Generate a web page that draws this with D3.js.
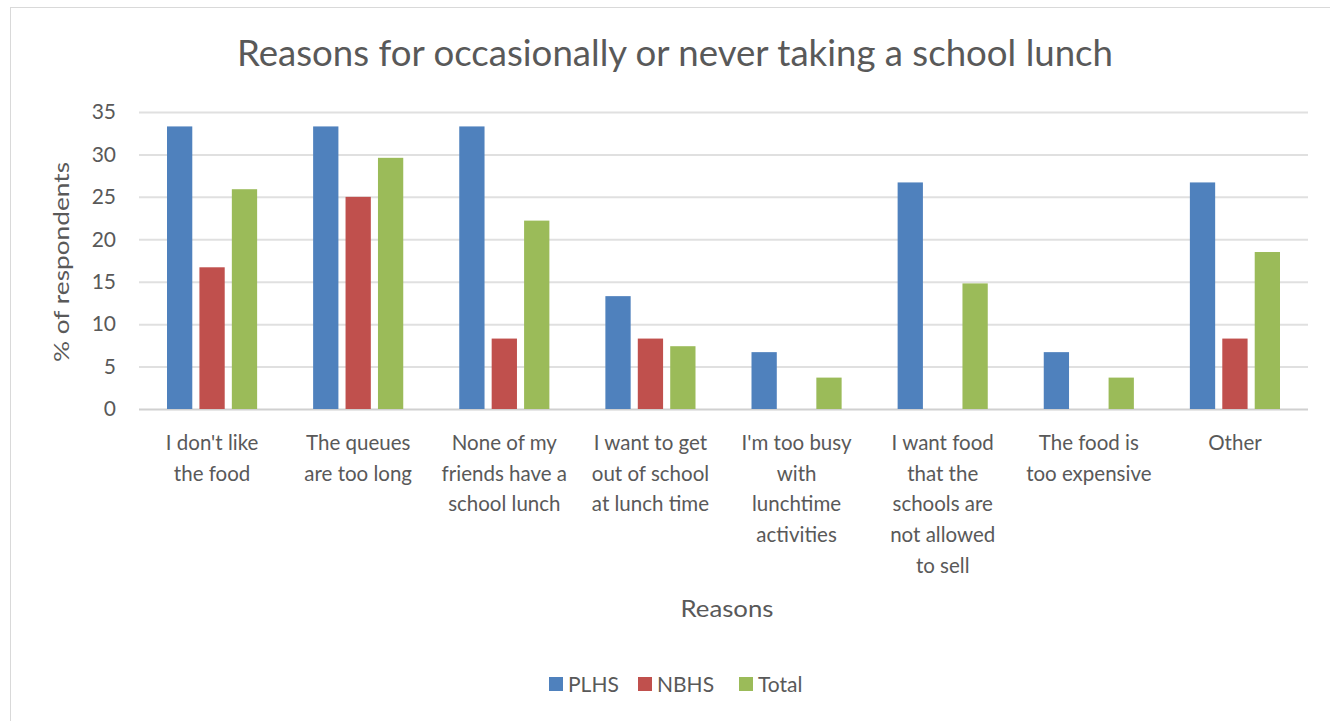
<!DOCTYPE html>
<html>
<head>
<meta charset="utf-8">
<script src="https://cdn.jsdelivr.net/npm/d3@7"></script>
<style>
  body { margin: 0; background: #fff; }
  svg text { font-family: Lato, "Open Sans", sans-serif; fill: #595959; }
</style>
</head>
<body>
<div id="chart"></div>
<script>
// Chart data
const categories = [
    ["I don't like", "the food"],
    ["The queues", "are too long"],
    ["None of my", "friends have a", "school lunch"],
    ["I want to get", "out of school", "at lunch time"],
    ["I'm too busy", "with", "lunchtime", "activities"],
    ["I want food", "that the", "schools are", "not allowed", "to sell"],
    ["The food is", "too expensive"],
    ["Other"]
];
const seriesNames = ["PLHS", "NBHS", "Total"];
const plhs = [33.3, 33.3, 33.3, 13.3, 6.7, 26.7, 6.7, 26.7];
const nbhs = [16.7, 25.0, 8.3, 8.3, 0, 0, 0, 8.3];
const total = [25.9, 29.6, 22.2, 7.4, 3.7, 14.8, 3.7, 18.5];
const yTicks = [0, 5, 10, 15, 20, 25, 30, 35];
const colors = ["#4f81bd", "#c0504d", "#9bbb59"];

const values = [plhs, nbhs, total];

// Layout constants
const cw = 1330;
const ch = 721;
const plotLeft = 139;
const plotRight = 1308;
const plotTop = 112;
const plotBottom = 409;

const svg = d3.select("#chart").append("svg")
              .attr("width", cw)
              .attr("height", ch);

// outer frame (cropped at right and bottom)
svg.append("rect")
   .attr("x", 10.5)
   .attr("y", 7.5)
   .attr("width", cw + 20)
   .attr("height", ch + 20)
   .style("fill", "none")
   .style("stroke", "#d9d9d9");

// scales
const x0 = d3.scaleBand()
             .domain(d3.range(categories.length))
             .range([plotLeft, plotRight]);
const groupPad = 28;
const x1 = d3.scaleBand()
             .domain(seriesNames)
             .range([groupPad, x0.bandwidth() - groupPad])
             .paddingInner(0.22);
const yScale = d3.scaleLinear()
                 .domain([0, 35])
                 .range([plotBottom, plotTop]);

// gridlines
svg.append("g")
   .selectAll("line")
   .data(yTicks)
   .enter()
   .append("line")
   .attr("x1", plotLeft)
   .attr("x2", plotRight)
   .attr("y1", d => yScale(d) + 0.5)
   .attr("y2", d => yScale(d) + 0.5)
   .style("stroke", d => d === 0 ? "#d0d0d0" : "#e0e0e0")
   .style("stroke-width", 2);

// y axis labels
const yAxis = d3.axisLeft(yScale)
                .tickValues(yTicks)
                .tickSize(0)
                .tickPadding(0);
const yg = svg.append("g")
   .attr("transform", "translate(116,0)")
   .call(yAxis);
yg.select(".domain").remove();
yg.selectAll("text")
  .style("font-size", "21px")
  .style("fill", "#595959");

// bars
const groups = svg.append("g")
   .selectAll("g")
   .data(categories.map((c, i) => i))
   .enter()
   .append("g")
   .attr("transform", i => "translate(" + x0(i) + ",0)");

groups.selectAll("rect")
      .data(i => seriesNames.map((s, k) => ({ s: s, k: k, v: values[k][i] })).filter(d => d.v > 0))
      .enter()
      .append("rect")
      .attr("x", d => x1(d.s))
      .attr("y", d => yScale(d.v))
      .attr("width", x1.bandwidth())
      .attr("height", d => plotBottom - yScale(d.v))
      .style("fill", d => colors[d.k]);

// category labels
const xAxis = d3.axisBottom(x0)
                .tickSize(0)
                .tickFormat("");
const xg = svg.append("g")
   .attr("transform", "translate(0," + plotBottom + ")")
   .call(xAxis);
xg.select(".domain").remove();
xg.selectAll(".tick")
  .append("text")
  .attr("text-anchor", "middle")
  .style("font-size", "20.5px")
  .style("fill", "#595959")
  .selectAll("tspan")
  .data(i => categories[i])
  .enter()
  .append("tspan")
  .attr("x", 0)
  .attr("y", (d, j) => 41 + j * 30.7)
  .text(d => d);

// title
svg.append("text")
   .text("Reasons for occasionally or never taking a school lunch")
   .attr("x", 675)
   .attr("y", 66)
   .attr("text-anchor", "middle")
   .attr("textLength", 876)
   .attr("lengthAdjust", "spacingAndGlyphs")
   .style("font-size", "36px");

// axis titles
svg.append("text")
   .text("% of respondents")
   .attr("transform", "translate(69,262) rotate(-90)")
   .attr("text-anchor", "middle")
   .attr("textLength", 200)
   .attr("lengthAdjust", "spacingAndGlyphs")
   .style("font-size", "21px");
svg.append("text")
   .text("Reasons")
   .attr("x", 727)
   .attr("y", 617)
   .attr("text-anchor", "middle")
   .attr("textLength", 93)
   .attr("lengthAdjust", "spacingAndGlyphs")
   .style("font-size", "24px");

// legend
const legendX = [549, 638, 739];
const legend = svg.append("g")
   .selectAll("g")
   .data(seriesNames)
   .enter()
   .append("g")
   .attr("transform", (d, i) => "translate(" + legendX[i] + ",677)");
legend.append("rect")
      .attr("width", 14)
      .attr("height", 14)
      .style("fill", (d, i) => colors[i]);
legend.append("text")
      .text(d => d)
      .attr("x", 19)
      .attr("y", 15)
      .style("font-size", "21px");
</script>
</body>
</html>
